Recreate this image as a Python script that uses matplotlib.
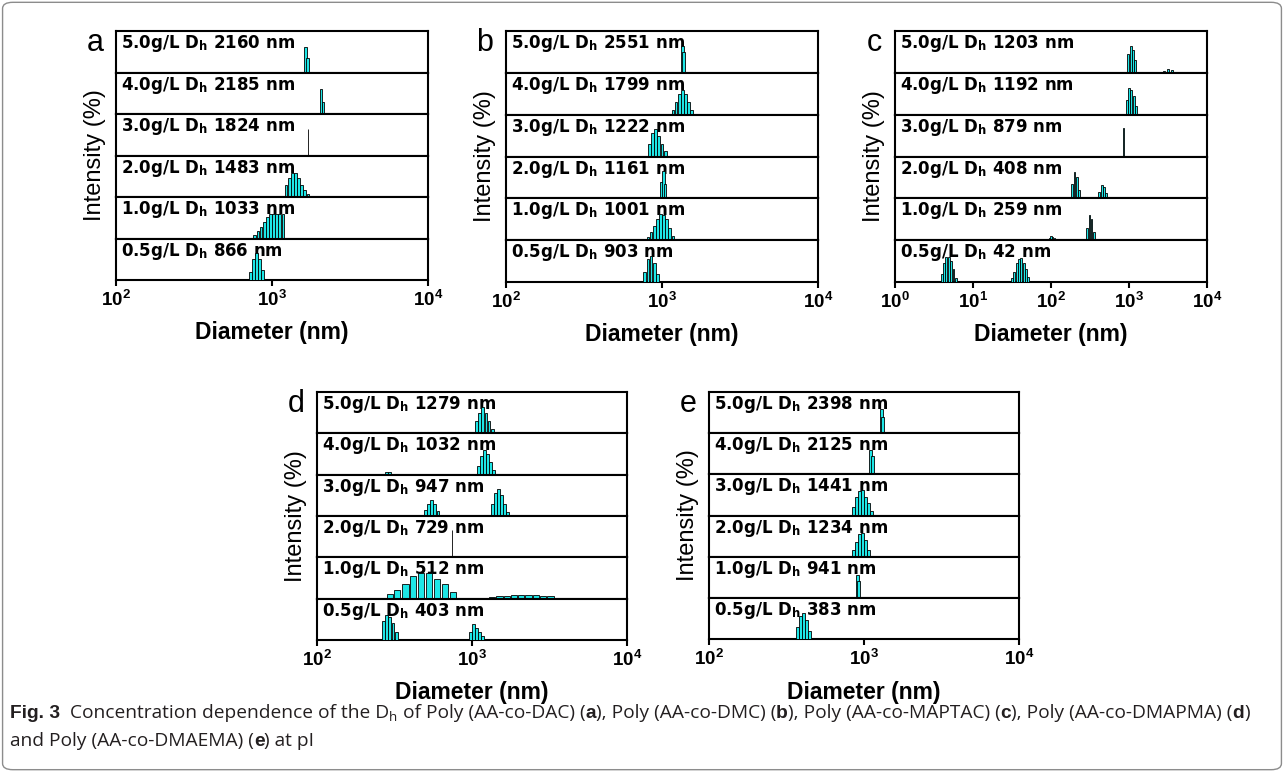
import numpy as np
import matplotlib
matplotlib.use("Agg")
import matplotlib.pyplot as plt
from matplotlib.patches import FancyBboxPatch
from matplotlib.font_manager import FontProperties

plt.rcParams['font.family'] = ['Liberation Sans', 'DejaVu Sans']
plt.rcParams['mathtext.fontset'] = 'custom'
plt.rcParams['mathtext.rm'] = 'Liberation Sans:bold'
plt.rcParams['mathtext.it'] = 'Liberation Sans:bold'
plt.rcParams['mathtext.bf'] = 'Liberation Sans:bold'
plt.rcParams['mathtext.sf'] = 'DejaVu Sans:bold'

# rows top -> bottom
conc = ['5.0g/L', '4.0g/L', '3.0g/L', '2.0g/L', '1.0g/L', '0.5g/L']

# (a) Poly (AA-co-DAC)
dh_a = [2160, 2185, 1824, 1483, 1033, 866]
size_a = [[1630, 1680],
          [2060, 2120],
          [1700],
          [1230, 1290, 1350, 1410, 1480, 1550, 1620, 1700, 1780],
          [741, 776, 813, 851, 891, 933, 977, 1023, 1072, 1122, 1175],
          [724, 759, 794, 832, 871]]
int_a = [[0.62, 0.35],
         [0.6, 0.3],
         [0.65],
         [0.3, 0.45, 0.58, 0.57, 0.45, 0.3, 0.18, 0.08, 0.03],
         [0.02, 0.08, 0.17, 0.27, 0.4, 0.52, 0.6, 0.6, 0.6, 0.6, 0.58],
         [0.2, 0.5, 0.65, 0.5, 0.25]]

# (b) Poly (AA-co-DMC)
dh_b = [2551, 1799, 1222, 1161, 1001, 903]
size_b = [[1350, 1380],
          [1175, 1230, 1288, 1349, 1413, 1479, 1549],
          [832, 871, 912, 955, 1000, 1047],
          [995, 1020, 1045],
          [813, 851, 891, 933, 977, 1023, 1072, 1122, 1175],
          [776, 813, 851, 891, 933]]
int_b = [[0.63, 0.5],
         [0.12, 0.3, 0.5, 0.6, 0.5, 0.3, 0.1],
         [0.3, 0.55, 0.65, 0.5, 0.3, 0.12],
         [0.4, 0.65, 0.35],
         [0.08, 0.2, 0.35, 0.5, 0.62, 0.6, 0.5, 0.3, 0.1],
         [0.25, 0.55, 0.63, 0.45, 0.2]]

# (c) Poly (AA-co-MAPTAC)
dh_c = [1203, 1192, 879, 408, 259, 42]
size_c = [[977, 1047, 1122, 1202, 2818, 3162, 3548, 3981],
          [933, 1000, 1072, 1148, 1230],
          [850],
          [186, 200, 214, 229, 417, 447, 479, 513],
          [95, 100, 105, 110, 288, 309, 331, 355],
          [3.98, 4.27, 4.57, 4.90, 5.25, 5.62, 6.03,
           31.6, 33.9, 36.3, 38.9, 41.7, 44.7, 47.9, 51.3]]
int_c = [[0.45, 0.63, 0.55, 0.3, 0.05, 0.08, 0.06, 0.03],
         [0.35, 0.63, 0.6, 0.45, 0.2],
         [0.67],
         [0.35, 0.63, 0.5, 0.2, 0.15, 0.32, 0.28, 0.12],
         [0.06, 0.1, 0.08, 0.04, 0.3, 0.6, 0.5, 0.2],
         [0.2, 0.45, 0.6, 0.6, 0.5, 0.3, 0.1,
          0.1, 0.25, 0.45, 0.55, 0.58, 0.45, 0.3, 0.12]]

# (d) Poly (AA-co-DMAPMA)
dh_d = [1279, 1032, 947, 729, 512, 403]
size_d = [[1072, 1122, 1175, 1230, 1288, 1349],
          [282, 295, 1096, 1148, 1202, 1259, 1318, 1380],
          [501, 525, 550, 575, 603, 1349, 1413, 1479, 1549, 1622, 1698],
          [741],
          [264, 294, 330, 372, 416, 469, 528, 592, 667, 752,
           1349, 1503, 1675, 1866, 2080, 2317, 2582, 2877, 3206, 3573],
          [269, 282, 295, 309, 324, 977, 1023, 1072, 1122, 1175]]
int_d = [[0.3, 0.5, 0.63, 0.5, 0.3, 0.1],
         [0.06, 0.07, 0.2, 0.45, 0.6, 0.5, 0.3, 0.12],
         [0.15, 0.3, 0.39, 0.3, 0.12, 0.3, 0.55, 0.65, 0.5, 0.3, 0.1],
         [0.65],
         [0.015, 0.12, 0.22, 0.35, 0.56, 0.62, 0.61, 0.48, 0.35, 0.16,
          0.04, 0.055, 0.07, 0.09, 0.1, 0.1, 0.09, 0.07, 0.055, 0.025],
         [0.45, 0.6, 0.55, 0.4, 0.2, 0.2, 0.39, 0.3, 0.2, 0.1]]

# (e) Poly (AA-co-DMAEMA)
dh_e = [2398, 2125, 1441, 1234, 941, 383]
size_e = [[1290, 1320],
          [1105, 1135],
          [851, 891, 933, 977, 1023, 1072, 1122],
          [851, 891, 933, 977, 1023, 1072],
          [905, 925],
          [372, 389, 407, 427, 447]]
int_e = [[0.58, 0.4],
         [0.6, 0.45],
         [0.2, 0.45, 0.6, 0.63, 0.45, 0.3, 0.12],
         [0.15, 0.35, 0.55, 0.58, 0.4, 0.15],
         [0.56, 0.4],
         [0.3, 0.55, 0.63, 0.45, 0.2]]

ticks_abde = [1e2, 1e3, 1e4]
labels_abde = [r'$10^{2}$', r'$10^{3}$', r'$10^{4}$']
ticks_c = [1e0, 1e1, 1e2, 1e3, 1e4]
labels_c = [r'$10^{0}$', r'$10^{1}$', r'$10^{2}$', r'$10^{3}$', r'$10^{4}$']

W, H = 1284, 772
fig = plt.figure(figsize=(W / 100, H / 100), dpi=100)

bar_color = '#1EE6E6'


def draw_panel(letter, dh, sizes, ints, ticks, ticklabels, left, top, right, bottom):
    rh = (bottom - top) / 6
    for i in range(6):
        y0 = top + rh * (i + 1)
        ax = fig.add_axes([left / W, 1 - y0 / H, (right - left) / W, rh / H])
        ax.set_xscale('log')
        ax.set_xlim(ticks[0], ticks[-1])
        ax.set_ylim(0, 1)
        ax.set_yticks([])
        ax.minorticks_off()
        for s in ax.spines.values():
            s.set_linewidth(1.5)
        c = np.log10(sizes[i])
        if len(c) > 1:
            w = max(0.85 * np.min(np.abs(np.diff(c))), 0.018)
        else:
            w = 0.004
        lefts = 10 ** (c - w / 2)
        rights = 10 ** (c + w / 2)
        ax.bar(lefts, ints[i], width=rights - lefts, align='edge',
               color=bar_color, edgecolor='black', linewidth=0.6, zorder=3)
        ax.text(0.015, 0.95, f'{conc[i]} D$_{{\\mathsf{{h}}}}$ {dh[i]} nm',
                transform=ax.transAxes, ha='left', va='top',
                fontsize=12, fontweight='bold', family='DejaVu Sans', zorder=2)
        if i < 5:
            ax.set_xticks([])
        else:
            ax.set_xticks(ticks)
            ax.set_xticklabels(ticklabels, fontsize=13.5)
            ax.tick_params(axis='x', direction='out', length=4, width=1.5, pad=3)
    fig.text((left + right) / 2 / W, 1 - (bottom + 53) / H, 'Diameter (nm)',
             ha='center', va='center', fontsize=16.5, fontweight='bold')
    fig.text((left - 21) / W, 1 - (top + bottom) / 2 / H, 'Intensity (%)',
             ha='center', va='center', rotation=90, fontsize=17)
    fig.text((left - 21) / W, 1 - (top + 12) / H, letter,
             ha='center', va='center', fontsize=22)


draw_panel('a', dh_a, size_a, int_a, ticks_abde, labels_abde, 116, 31, 428, 280)
draw_panel('b', dh_b, size_b, int_b, ticks_abde, labels_abde, 506, 31, 818, 282)
draw_panel('c', dh_c, size_c, int_c, ticks_c, labels_c, 895, 31, 1207, 282)
draw_panel('d', dh_d, size_d, int_d, ticks_abde, labels_abde, 317, 392, 627, 640)
draw_panel('e', dh_e, size_e, int_e, ticks_abde, labels_abde, 709, 392, 1019, 639)

# caption, drawn piece by piece
renderer = fig.canvas.get_renderer()
cap_size = 13.8


def piece_width(s, prop):
    w1, _, _ = renderer.get_text_width_height_descent('|' + s + '|', prop, ismath=False)
    w0, _, _ = renderer.get_text_width_height_descent('||', prop, ismath=False)
    return w1 - w0


def caption_line(x, y, pieces):
    xp = x
    for s, weight, scale, dy in pieces:
        fam = 'Liberation Sans' if weight == 'bold' else 'Open Sans'
        prop = FontProperties(family=fam, weight=weight, size=cap_size * scale)
        fig.text(xp / W, 1 - (y + dy) / H, s, fontproperties=prop,
                 ha='left', va='baseline', color='#231f20')
        xp += piece_width(s, prop)


caption_line(10, 718, [
    ('Fig. 3', 'bold', 1, 0),
    ('  Concentration dependence of the D', 'normal', 1, 0),
    ('h', 'normal', 0.7, 3),
    (' of Poly (AA-co-DAC) (', 'normal', 1, 0),
    ('a', 'bold', 1, 0),
    ('), Poly (AA-co-DMC) (', 'normal', 1, 0),
    ('b', 'bold', 1, 0),
    ('), Poly (AA-co-MAPTAC) (', 'normal', 1, 0),
    ('c', 'bold', 1, 0),
    ('), Poly (AA-co-DMAPMA) (', 'normal', 1, 0),
    ('d', 'bold', 1, 0),
    (')', 'normal', 1, 0),
])
caption_line(10, 746, [
    ('and Poly (AA-co-DMAEMA) (', 'normal', 1, 0),
    ('e', 'bold', 1, 0),
    (') at pI', 'normal', 1, 0),
])

frame = FancyBboxPatch((0.002, 0.003), 0.996, 0.994,
                       boxstyle='round,pad=0,rounding_size=0.008',
                       transform=fig.transFigure, fill=False,
                       edgecolor='#8c8c8c', linewidth=1)
fig.patches.append(frame)

fig.savefig('out.png', dpi=100)
